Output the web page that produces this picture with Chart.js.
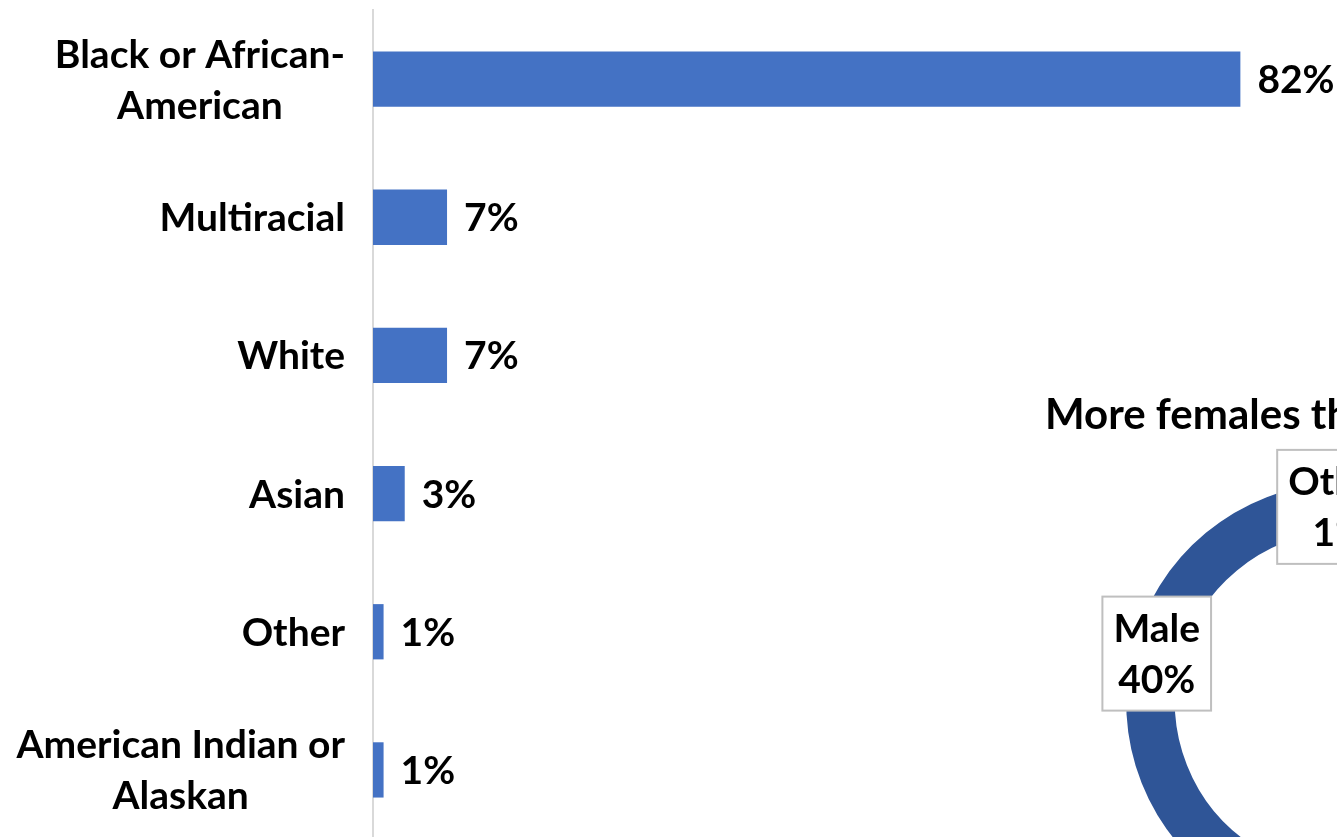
<!DOCTYPE html>
<html>
<head>
<meta charset="utf-8">
<script src="https://cdn.jsdelivr.net/npm/chart.js@4"></script>
<style>
  html, body { margin: 0; padding: 0; background: #fff; }
  #wrap { position: relative; width: 1337px; height: 837px; overflow: hidden; background: #fff; }
  #c-race { position: absolute; left: 0; top: 0; }
  #c-gender { position: absolute; left: 1045px; top: 390px; }
</style>
</head>
<body>
<div id="wrap">
  <canvas id="c-race" width="1337" height="839"></canvas>
  <canvas id="c-gender" width="602" height="534"></canvas>
</div>
<script>
// race breakdown (horizontal bars) + gender doughnut, cropped like the slide
const raceLabels = [['Black or African-', 'American'], ['Multiracial'], ['White'], ['Asian'], ['Other'], ['American Indian or', 'Alaskan']];
const racePct = [82, 7, 7, 3, 1, 1];
const genderLabels = ['Female', 'Male', 'Other'];
const genderPct = [59, 40, 1];

const FONT = 'Lato, "Open Sans", sans-serif';
const FS = 39, LH = 51, CAP = FS * 0.72;
Chart.defaults.font.family = FONT;
Chart.defaults.color = '#000';
Chart.defaults.animation = false;

// category labels centred per block, right edge near axis; value labels after bar end
const raceText = {
  id: 'raceText',
  afterDatasetsDraw(chart) {
    const ctx = chart.ctx, ys = chart.scales.y, meta = chart.getDatasetMeta(0);
    ctx.save();
    ctx.font = `bold ${FS}px ${FONT}`;
    ctx.fillStyle = '#000';
    ctx.textBaseline = 'alphabetic';
    chart.data.labels.forEach((lines, i) => {
      const cy = ys.getPixelForValue(i);
      const w = Math.max(...lines.map(l => ctx.measureText(l).width));
      const cx = ys.right - 28 - w / 2;
      ctx.textAlign = 'center';
      lines.forEach((l, j) => ctx.fillText(l, cx, cy + CAP / 2 + (j - (lines.length - 1) / 2) * LH));
      ctx.textAlign = 'left';
      ctx.fillText(racePct[i] + '%', meta.data[i].x + 17, cy + CAP / 2);
    });
    ctx.restore();
  }
};

// boxed "Name / nn%" labels sitting on the ring
const genderText = {
  id: 'genderText',
  afterDatasetsDraw(chart) {
    const ctx = chart.ctx, meta = chart.getDatasetMeta(0);
    ctx.save();
    ctx.font = `bold ${FS}px ${FONT}`;
    ctx.textAlign = 'center';
    ctx.textBaseline = 'alphabetic';
    meta.data.forEach((arc, i) => {
      const p = arc.tooltipPosition();
      const lines = [genderLabels[i], genderPct[i] + '%'];
      const w = Math.max(...lines.map(l => ctx.measureText(l).width)) + 22;
      const h = lines.length * LH + 12;
      ctx.fillStyle = '#fff';
      ctx.fillRect(p.x - w / 2, p.y - h / 2, w, h);
      ctx.strokeStyle = '#bfbfbf';
      ctx.lineWidth = 2;
      ctx.strokeRect(p.x - w / 2, p.y - h / 2, w, h);
      ctx.fillStyle = '#000';
      lines.forEach((l, j) => ctx.fillText(l, p.x, p.y + CAP / 2 + (j - 0.5) * LH));
    });
    ctx.restore();
  }
};

new Chart(document.getElementById('c-race'), {
  type: 'bar',
  data: {
    labels: raceLabels,
    datasets: [{ data: racePct, backgroundColor: '#4472c4',
                 categoryPercentage: 1, barPercentage: 0.4 }]
  },
  options: {
    responsive: false,
    indexAxis: 'y',
    layout: { padding: { top: 10, right: 12, bottom: 0, left: 0 } },
    plugins: { legend: { display: false }, tooltip: { enabled: false } },
    scales: {
      x: { display: false, min: 0, max: 90 },
      y: {
        grid: { display: false, drawTicks: false },
        border: { display: true, color: '#d9d9d9', width: 2 },
        ticks: { display: false },
        afterFit: s => { s.width = 373; }
      }
    }
  },
  plugins: [raceText]
});

new Chart(document.getElementById('c-gender'), {
  type: 'doughnut',
  data: {
    labels: genderLabels,
    datasets: [{ data: genderPct, backgroundColor: '#2f5597', borderColor: '#fff', borderWidth: 2 }]
  },
  options: {
    responsive: false,
    cutout: '77%',
    plugins: {
      legend: { display: false },
      tooltip: { enabled: false },
      title: { display: true, text: 'More females than males', align: 'start', color: '#000',
               font: { size: 42, weight: 'bold', lineHeight: 1.2 }, padding: { top: 0, bottom: 40 } }
    }
  },
  plugins: [genderText]
});
</script>
</body>
</html>
